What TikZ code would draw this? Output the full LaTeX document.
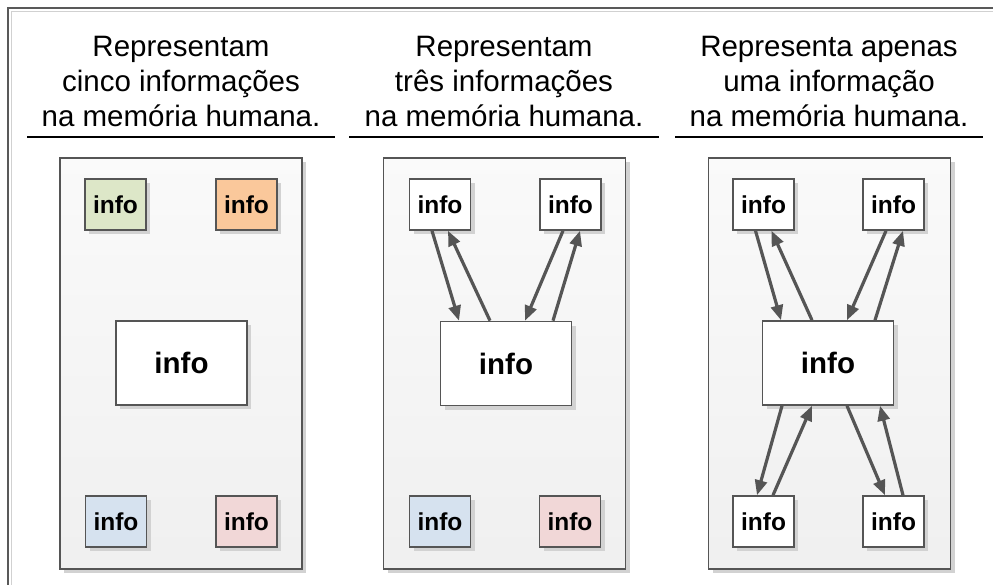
\documentclass[tikz,border=0pt]{standalone}
\usepackage{fontspec}
\setmainfont{Liberation Sans}
\usetikzlibrary{arrows.meta,calc,shadows}
\definecolor{edgegray}{HTML}{555555}
\definecolor{shadowgray}{HTML}{D2D2D2}
\definecolor{infogreen}{HTML}{DDE7C8}
\definecolor{infoorange}{HTML}{FAC89B}
\definecolor{infoblue}{HTML}{D6E2EF}
\definecolor{infopink}{HTML}{F1D7D7}
\tikzset{
  hdr/.style={inner sep=0pt, anchor=base, font=\fontsize{29.5}{35}\selectfont},
  rule/.style={line width=1.6pt, black},
  panel/.style={draw=edgegray, line width=1.6pt, top color=white!98!black, bottom color=black!6,
    minimum width=242pt, minimum height=411pt, inner sep=0pt,
    drop shadow={shadow xshift=4pt, shadow yshift=-4pt, fill=shadowgray, opacity=1}},
  infobox/.style={draw=edgegray, line width=1.6pt, fill=white, inner sep=0pt,
    minimum width=61pt, minimum height=51pt, font=\fontsize{24.5}{27}\selectfont\bfseries,
    drop shadow={shadow xshift=4pt, shadow yshift=-4pt, fill=shadowgray, opacity=1}},
  bigbox/.style={infobox, minimum width=131pt, minimum height=84pt, font=\fontsize{29.5}{32}\selectfont\bfseries},
  link/.style={draw=edgegray, line width=3.2pt, -{Triangle[length=15pt,width=12pt]}}
}
\begin{document}
\begin{tikzpicture}[x=1pt,y=-1pt]
  \clip (0,0) rectangle (993,585);
  \fill[white] (0,0) rectangle (993,585);
  % outer frame, running off the page at right and bottom
  \draw[line width=1.2pt, black!65] (8,8) rectangle (1100,700);
  \draw[line width=1pt, black!18] (11.5,11.5) rectangle (1100,700);

  % headers
  \foreach \cx/\a/\b/\n in {181/Representam/cinco informações/1,
                            504/Representam/três informações/2,
                            829/Representa apenas/uma informação/3}{
    \node[hdr] (h\n a) at (\cx,57) {\a};
    \node[hdr] (h\n b) at (\cx,92) {\b};
    \node[hdr] (h\n c) at (\cx,127) {na memória humana.};
  }
  \draw[rule] (27,137) -- (335,137);
  \draw[rule] (349,137) -- (659,137);
  \draw[rule] (675,137) -- (983,137);

  % panels
  \node[panel] (p1) at (181,363.5) {};
  \node[panel] (p2) at (504.5,363.5) {};
  \node[panel] (p3) at (829.5,363.5) {};

  % panel 1: five separate items
  \node[infobox, fill=infogreen]  (a1) at (115.5,204.5) {info};
  \node[infobox, fill=infoorange] (b1) at (246.5,204.5) {info};
  \node[bigbox]                   (c1) at (181.5,363)   {info};
  \node[infobox, fill=infoblue]   (d1) at (116,521.5)   {info};
  \node[infobox, fill=infopink]   (e1) at (246.5,521.5) {info};

  % panel 2: three items
  \node[infobox] (a2) at (440,204.5)   {info};
  \node[infobox] (b2) at (570.5,204.5) {info};
  \node[bigbox]  (c2) at (506,363.5)   {info};
  \node[infobox, fill=infoblue] (d2) at (440,521.5)   {info};
  \node[infobox, fill=infopink] (e2) at (570,521.5)   {info};

  % panel 3: one item
  \node[infobox] (a3) at (763.5,204.5) {info};
  \node[infobox] (b3) at (893.5,204.5) {info};
  \node[bigbox]  (c3) at (828,363)     {info};
  \node[infobox] (d3) at (763.5,521.5) {info};
  \node[infobox] (e3) at (893.5,521.5) {info};

  % links in panels 2 and 3 (top pairs)
  \foreach \n in {2,3}{
    \draw[link] ($(a\n.south)+(-8,0)$) -- ($(c\n.north)+(-47,0)$);
    \draw[link] ($(c\n.north)+(-16,0)$) -- ($(a\n.south)+(8,0)$);
    \draw[link] ($(b\n.south)+(-7.5,0)$) -- ($(c\n.north)+(19,0)$);
    \draw[link] ($(c\n.north)+(47,0)$) -- ($(b\n.south)+(9.5,0)$);
  }
  % links in panel 3 (bottom pairs)
  \draw[link] ($(c3.south)+(-46,0)$) -- ($(d3.north)+(-6.5,0)$);
  \draw[link] ($(d3.north)+(9.5,0)$) -- ($(c3.south)+(-16,0)$);
  \draw[link] ($(c3.south)+(19,0)$) -- ($(e3.north)+(-8.5,0)$);
  \draw[link] ($(e3.north)+(9.5,0)$) -- ($(c3.south)+(52,0)$);
\end{tikzpicture}
\end{document}
